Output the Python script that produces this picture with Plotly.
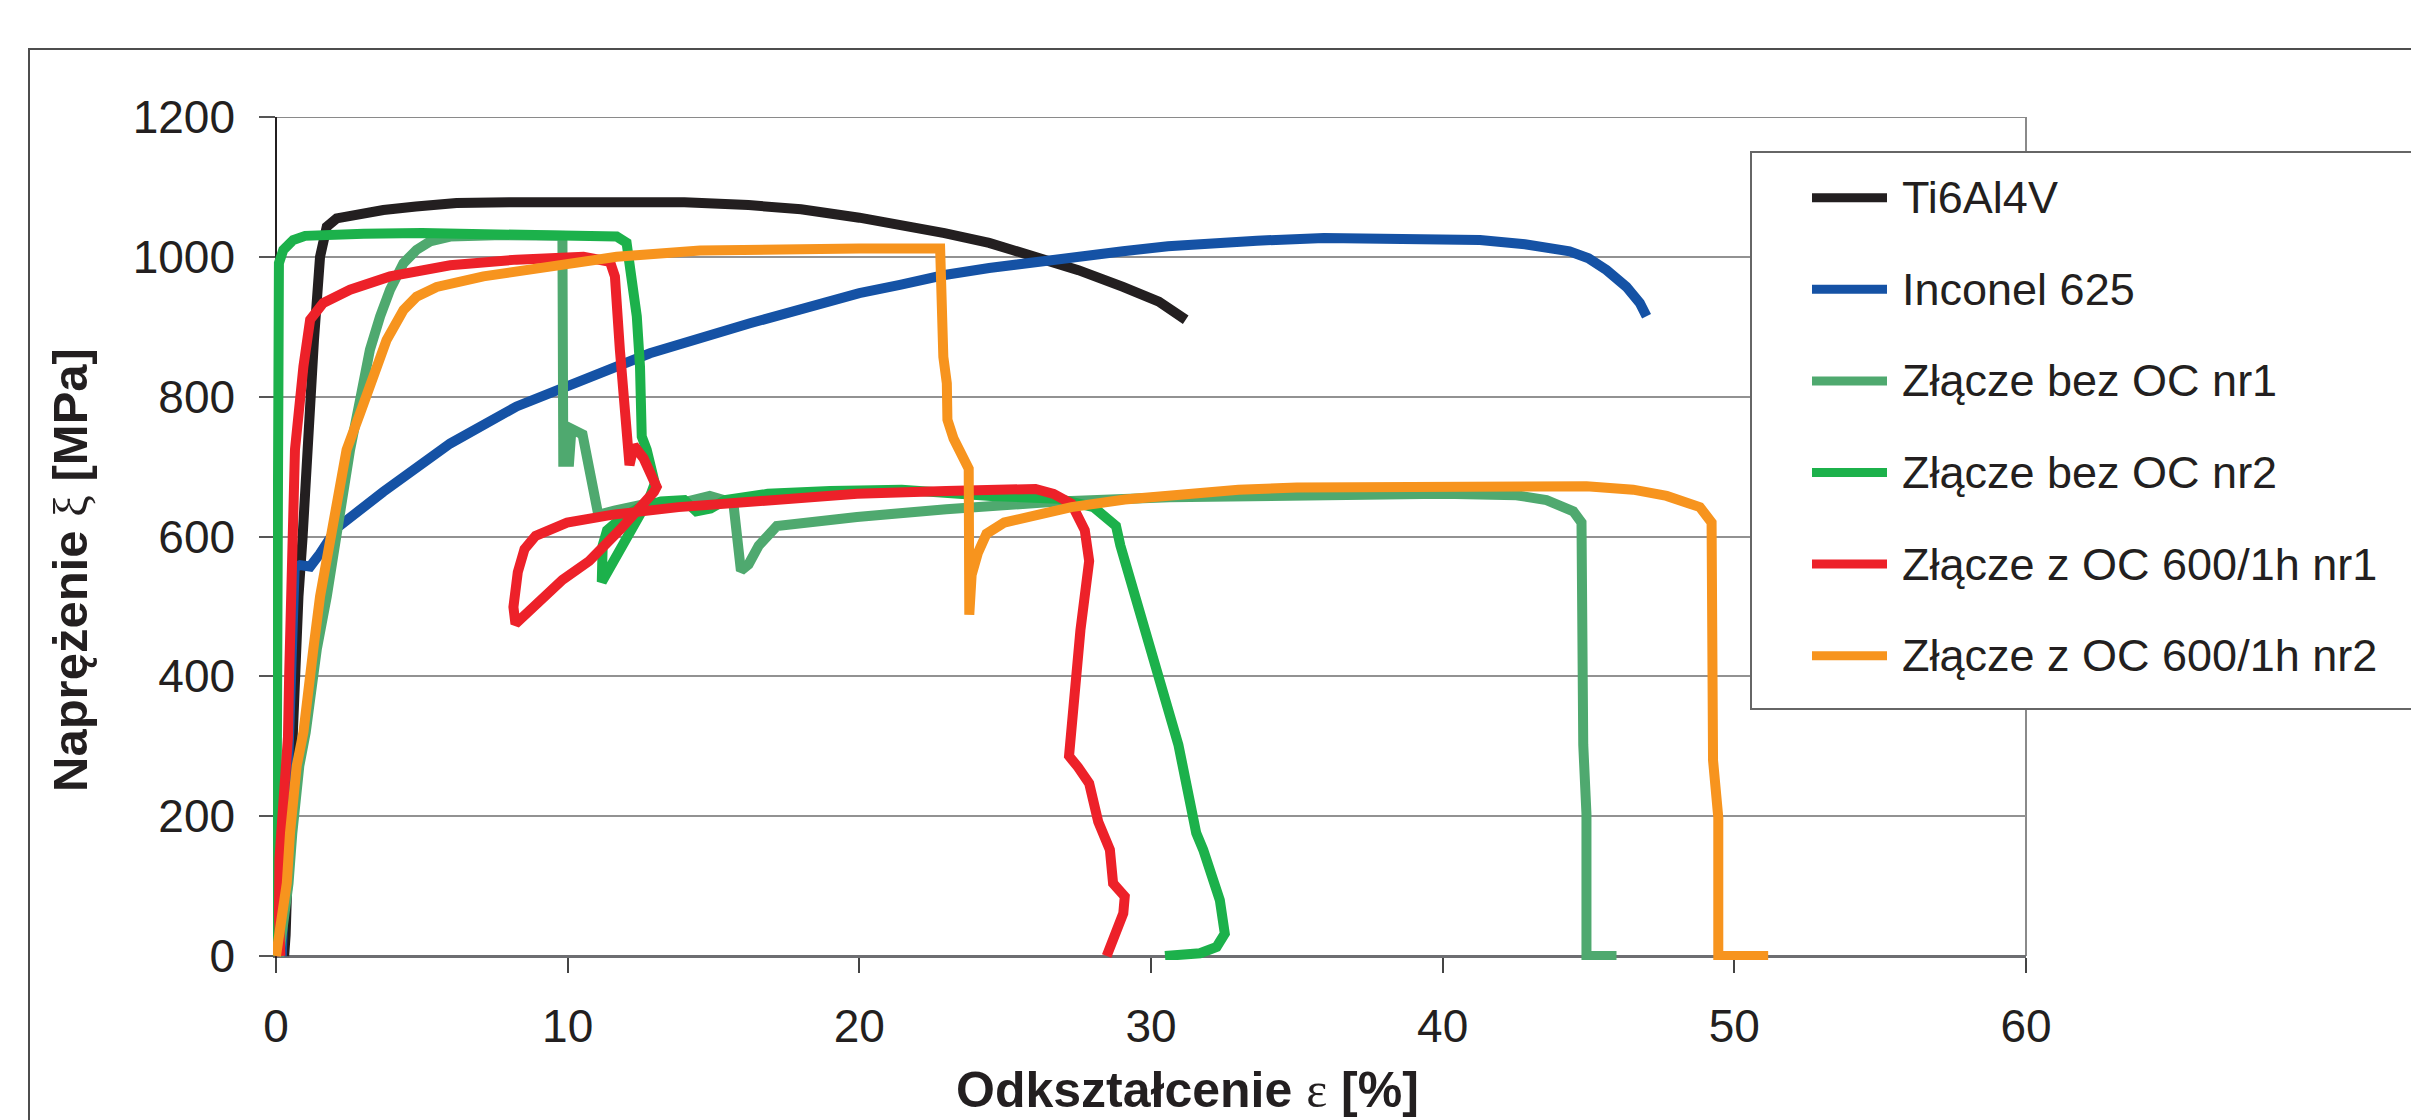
import plotly.graph_objects as go

# ---------------- data ----------------
series_names = ["Ti6Al4V", "Inconel 625", "Złącze bez OC nr1", "Złącze bez OC nr2",
                "Złącze z OC 600/1h nr1", "Złącze z OC 600/1h nr2"]
series_colors = ["#231f20", "#1552a5", "#4fa96f", "#1cb14b", "#ed2129", "#f7941e"]

ti_x = [0.28, 0.33, 0.46, 0.55, 0.64, 0.77, 0.91, 1.11, 1.30, 1.51, 1.74, 2.08, 2.80, 3.68,
        4.80, 6.19, 8.00, 10.0, 12.0, 14.0, 16.2, 18.0, 20.0, 21.39, 22.92, 24.45, 25.98,
        27.51, 29.04, 30.27, 31.19]
ti_y = [0, 30, 200, 305, 398, 514, 598, 757, 880, 1000, 1043, 1055, 1062, 1067,
        1072, 1077, 1078, 1079, 1080, 1078, 1074, 1068, 1056, 1046, 1034, 1020, 1000,
        981, 957, 936, 910]

inc_x = [0.20, 0.30, 0.40, 0.50, 0.64, 0.82, 1.17, 1.50, 2.08, 3.68, 5.97, 8.25, 10.54, 12.82,
         16.25, 18.5, 20.0, 21.39, 22.92, 24.45, 25.98, 27.51, 29.04, 30.58, 32.10, 33.63,
         35.93, 38.22, 41.28, 42.82, 44.35, 45.00, 45.62, 46.30, 46.76, 46.99]
inc_y = [0, 150, 300, 450, 556, 559, 557, 575, 612, 664, 733, 786, 824, 862,
         905, 932, 948, 960, 974, 984, 993, 1000, 1008, 1015, 1020, 1023,
         1027, 1027, 1024, 1018, 1008, 998, 981, 957, 934, 915]

b1_x = [0.10, 0.30, 0.43, 0.56, 0.68, 0.80, 1.02, 1.14, 1.40, 1.74, 2.08, 2.54, 2.88, 3.22,
        3.57, 3.91, 4.37, 4.82, 5.28, 5.97, 7.50, 9.00, 9.82, 9.85, 10.05, 10.13, 10.51,
        10.74, 10.89, 11.05, 11.60, 12.82, 13.80, 14.87, 15.68, 15.90, 15.94, 16.20, 16.55,
        17.17, 18.50, 19.92, 22.98, 26.81, 30.63, 35.0, 40.0, 42.53, 43.56, 44.48, 44.76,
        44.82, 44.93, 44.93, 45.96]
b1_y = [0, 56, 104, 176, 224, 272, 320, 367, 439, 514, 605, 724, 795, 867,
        915, 953, 991, 1010, 1022, 1029, 1031, 1030, 1030, 707, 707, 754, 746,
        697, 658, 631, 637, 648, 647, 658, 648, 557, 551, 560, 587,
        615, 622, 628, 639, 650, 656, 659, 661, 659, 652, 636, 620,
        302, 203, 0, 0]

b2_x = [0.00, 0.03, 0.05, 0.07, 0.10, 0.25, 0.59, 1.00, 1.39, 3.0, 5.0, 7.0, 9.0, 10.5,
        11.68, 12.02, 12.14, 12.37, 12.48, 12.54, 12.71, 12.99, 12.80, 12.20, 11.60, 11.17,
        11.20, 11.35, 11.80, 12.40, 13.20, 14.00, 14.41, 14.90, 15.40, 16.86, 19.0, 21.45,
        24.51, 26.81, 28.03, 28.80, 28.95, 29.72, 30.33, 30.94, 31.55, 31.79, 32.36, 32.53,
        32.25, 31.68, 30.48]
b2_y = [0, 300, 700, 950, 991, 1010, 1024, 1030, 1031, 1033, 1034, 1032, 1031, 1030,
        1029, 1020, 986, 915, 843, 743, 724, 676, 655, 610, 565, 535,
        587, 609, 625, 640, 650, 652, 636, 640, 652, 661, 665, 667,
        658, 654, 642, 615, 587, 478, 401, 302, 176, 152, 80, 32,
        13, 4, 0]

z1_x = [0.15, 0.10, 0.12, 0.24, 0.41, 0.45, 0.49, 0.56, 0.65, 0.94, 1.17, 1.62, 2.54, 3.91,
        5.97, 8.25, 10.54, 11.45, 11.62, 11.79, 12.02, 12.12, 12.27, 12.60, 13.05, 12.96,
        11.80, 10.74, 9.82, 8.21, 8.14, 8.29, 8.52, 8.90, 9.98, 11.50, 13.80, 16.86, 19.92,
        22.98, 26.04, 26.66, 27.27, 27.73, 27.88, 27.58, 27.27, 27.19, 27.50, 27.88, 28.19,
        28.59, 28.70, 29.10, 29.05, 28.70, 28.48]
z1_y = [0, 60, 140, 200, 313, 400, 483, 596, 724, 843, 910, 934, 953, 972,
        988, 996, 1000, 993, 972, 867, 771, 702, 730, 712, 671, 664,
        610, 565, 538, 475, 499, 549, 582, 601, 620, 631, 642, 653, 661,
        665, 668, 661, 647, 609, 565, 466, 335, 286, 270, 247, 192,
        152, 104, 85, 61, 28, 0]

z2_x = [0.00, 0.24, 0.37, 0.48, 0.60, 0.71, 0.94, 1.05, 1.28, 1.51, 1.97, 2.42, 2.88, 3.34,
        3.79, 4.37, 4.82, 5.51, 7.11, 9.39, 11.68, 14.54, 17.0, 20.0, 22.77, 22.88, 23.00,
        23.02, 23.23, 23.44, 23.75, 23.77, 23.85, 24.06, 24.36, 24.97, 26.04, 27.27, 29.10,
        31.55, 33.0, 35.0, 40.0, 44.93, 46.53, 47.68, 48.82, 49.22, 49.27, 49.45, 49.45, 51.16]
z2_y = [0, 56, 104, 176, 224, 272, 320, 367, 439, 514, 628, 724, 776, 833,
        881, 924, 943, 957, 972, 986, 1000, 1009, 1011, 1012, 1012, 857, 819,
        767, 740, 719, 697, 488, 545, 576, 604, 620, 631, 642, 653,
        664, 667, 670, 672, 672, 667, 658, 642, 620, 280, 198, 0, 0]

series_x = [ti_x, inc_x, b1_x, b2_x, z1_x, z2_x]
series_y = [ti_y, inc_y, b1_y, b2_y, z1_y, z2_y]

x_ticks = [0, 10, 20, 30, 40, 50, 60]
y_ticks = [0, 200, 400, 600, 800, 1000, 1200]

x_title = ("<b>Odkształcenie</b> <span style=\"font-family:'Liberation Serif';font-weight:normal\">ε</span>"
           " <b>[%]</b>")
y_title = ("<b>Naprężenie</b> <span style=\"font-family:'Liberation Serif';font-weight:normal\">ξ</span>"
           " <b>[MPa]</b>")

# ---------------- layout geometry (window pixel targets) ----------------
WIN_W, WIN_H = 2419, 1120
OFF = 8                                   # default page body margin
W, H = WIN_W - OFF, WIN_H - OFF           # figure size so it ends at the window edge
PLOT_L, PLOT_R, PLOT_T, PLOT_B = 273, 2026, 117, 960   # plot area in window px
ML, MT = PLOT_L - OFF, PLOT_T - OFF
MR = WIN_W - PLOT_R
MB = WIN_H - PLOT_B
PW = PLOT_R - PLOT_L
PH = PLOT_B - PLOT_T
X0PX, Y0PX = 276, 956          # window px position of the data origin
XMAX, YMAX = 60, 1200
x_scale = (PLOT_R - X0PX) / XMAX
y_scale = (Y0PX - PLOT_T) / YMAX
x_min = -(X0PX - PLOT_L) / x_scale
y_min = -(PLOT_B - Y0PX) / y_scale


def px_x(px):
    return (px - PLOT_L) / PW


def px_y(py):
    return (PLOT_B - py) / PH


FONT = "Liberation Sans, Arial, sans-serif"
TXT = "#231f20"

fig = go.Figure()
for name, color, xs, ys in zip(series_names, series_colors, series_x, series_y):
    fig.add_trace(go.Scatter(x=xs, y=ys, mode="lines", name=name,
                             line=dict(color=color, width=10), showlegend=False))

shapes = []
# outer chart frame
shapes.append(dict(type="rect", xref="paper", yref="paper",
                   x0=px_x(29), x1=px_x(2600), y0=px_y(1300), y1=px_y(49),
                   line=dict(color="#4d4d4d", width=2), fillcolor="rgba(0,0,0,0)", layer="above"))
# plot area right and top borders
shapes.append(dict(type="line", xref="paper", yref="y", x0=1, x1=1, y0=0, y1=YMAX,
                   line=dict(color="#8a8a8a", width=2), layer="below"))
shapes.append(dict(type="line", xref="paper", yref="y", x0=px_x(X0PX), x1=1, y0=YMAX, y1=YMAX,
                   line=dict(color="#8a8a8a", width=2), layer="below"))
# legend frame
shapes.append(dict(type="rect", xref="paper", yref="paper",
                   x0=px_x(1751), x1=px_x(2600), y0=px_y(709), y1=px_y(152),
                   line=dict(color="#666666", width=2), fillcolor="white", layer="above"))

annotations = []
leg_y0, leg_dy = 197.7, 91.6
for i, (name, color) in enumerate(zip(series_names, series_colors)):
    yc = leg_y0 + i * leg_dy
    shapes.append(dict(type="line", xref="paper", yref="paper",
                       x0=px_x(1812), x1=px_x(1887), y0=px_y(yc), y1=px_y(yc),
                       line=dict(color=color, width=9), layer="above"))
    annotations.append(dict(text=name, xref="paper", yref="paper", x=px_x(1900), y=px_y(yc),
                            xanchor="left", yanchor="middle", showarrow=False,
                            font=dict(family=FONT, size=45, color=TXT)))

annotations.append(dict(text=x_title, xref="paper", yref="paper", x=px_x(1187), y=px_y(1090),
                        xanchor="center", yanchor="middle", showarrow=False,
                        font=dict(family=FONT, size=50, color=TXT)))
annotations.append(dict(text=y_title, xref="paper", yref="paper", x=px_x(70), y=px_y(570),
                        xanchor="center", yanchor="middle", showarrow=False, textangle=-90,
                        font=dict(family=FONT, size=49, color=TXT)))

fig.update_layout(
    width=W, height=H,
    margin=dict(l=ML, r=MR, t=MT, b=MB, pad=0),
    paper_bgcolor="white", plot_bgcolor="white",
    showlegend=False,
    font=dict(family=FONT, color=TXT),
    xaxis=dict(range=[x_min, XMAX], anchor="free", position=(PLOT_B - Y0PX) / PH,
               showgrid=False, zeroline=False,
               showline=True, linecolor="#6d6e71", linewidth=2.5,
               ticks="outside", ticklen=15, tickwidth=1.5, tickcolor="#444444",
               tickmode="array", tickvals=x_ticks, ticktext=[str(v) for v in x_ticks],
               tickfont=dict(family=FONT, size=46, color=TXT),
               ticklabelstandoff=14, layer="below traces"),
    yaxis=dict(range=[y_min, YMAX], anchor="free", position=(X0PX - PLOT_L) / PW,
               showgrid=True, gridcolor="#929292", gridwidth=2, zeroline=False,
               showline=True, linecolor="#231f20", linewidth=1.5,
               ticks="outside", ticklen=16, tickwidth=1.5, tickcolor="#555555",
               tickmode="array", tickvals=y_ticks, ticktext=[str(v) for v in y_ticks],
               tickfont=dict(family=FONT, size=46, color=TXT),
               ticklabelstandoff=15, layer="below traces"),
    shapes=shapes,
    annotations=annotations,
)

fig.write_html("out.html")
